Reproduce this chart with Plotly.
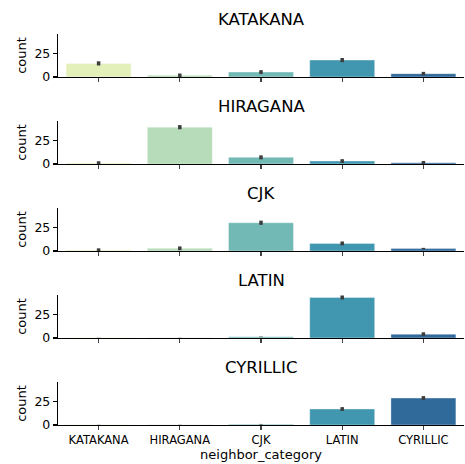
import plotly.graph_objects as go

categories = ["KATAKANA", "HIRAGANA", "CJK", "LATIN", "CYRILLIC"]
panel_titles = ["KATAKANA", "HIRAGANA", "CJK", "LATIN", "CYRILLIC"]

katakana_counts = [14.3, 1.8, 5.2, 17.8, 3.5]
hiragana_counts = [1.0, 38.7, 7.0, 3.1, 1.4]
cjk_counts = [1.0, 2.8, 29.7, 8.0, 2.5]
latin_counts = [0.3, 0.3, 1.2, 42.6, 4.0]
cyrillic_counts = [0.2, 0.3, 0.8, 16.8, 28.3]

katakana_err = [2.2, 1.9, 2.0, 2.2, 1.9]
hiragana_err = [1.9, 2.2, 2.1, 2.0, 1.8]
cjk_err = [1.8, 2.0, 2.2, 2.0, 0.8]
latin_err = [0.1, 0.1, 0.3, 2.1, 2.0]
cyrillic_err = [0.1, 0.1, 0.3, 2.0, 2.1]

y_ticks = [0, 25]
colors = ["#e3f0b9", "#b7dcb9", "#72b9b5", "#4197b0", "#306a9b"]

series = [katakana_counts, hiragana_counts, cjk_counts, latin_counts, cyrillic_counts]
errors = [katakana_err, hiragana_err, cjk_err, latin_err, cyrillic_err]

W, H = 465, 464
mt, mb = 34, 39
plot_h = H - mt - mb
fig = go.Figure()
annotations = []
layout = {}
for i, (vals, errs) in enumerate(zip(series, errors)):
    n = i + 1
    xa = "x" if n == 1 else f"x{n}"
    ya = "y" if n == 1 else f"y{n}"
    fig.add_trace(go.Bar(
        x=categories, y=vals, xaxis=xa, yaxis=ya,
        marker=dict(color=colors, line=dict(color="rgba(255,255,255,0.35)", width=1)),
        width=0.8,
        error_y=dict(type="data", array=errs, visible=True, thickness=3.5, width=0, color="#3d3d3d"),
        showlegend=False,
    ))
    top_px = 34 + 87 * i
    bot_px = 77 + 87 * i
    d0 = (H - mb - bot_px) / plot_h
    d1 = (H - mb - top_px) / plot_h
    xkey = "xaxis" if n == 1 else f"xaxis{n}"
    ykey = "yaxis" if n == 1 else f"yaxis{n}"
    layout[xkey] = dict(
        domain=[0, 1], anchor=ya, range=[-0.5, 4.5],
        showline=True, linecolor="#000", linewidth=1.2,
        ticks="outside", ticklen=4, tickwidth=1.2, tickcolor="#444",
        showticklabels=(n == 5), tickfont=dict(family="DejaVu Sans", size=11.5, color="#000"),
        showgrid=False, zeroline=False, fixedrange=True,
        categoryorder="array", categoryarray=categories,
        title=dict(text="neighbor_category", font=dict(family="DejaVu Sans", size=13, color="#000"), standoff=2) if n == 5 else None,
    )
    if n != 1:
        layout[xkey]["matches"] = "x"
    layout[ykey] = dict(
        domain=[d0, d1], anchor=xa, range=[0, 45.2],
        showline=True, linecolor="#000", linewidth=1.2,
        ticks="outside", ticklen=4, tickwidth=1.2, tickcolor="#000",
        tickvals=y_ticks, ticktext=[str(t) for t in y_ticks],
        tickfont=dict(family="DejaVu Sans", size=12.5, color="#000"),
        showgrid=False, zeroline=False, fixedrange=True,
        title=dict(text="count", font=dict(family="DejaVu Sans", size=13, color="#000"), standoff=4),
    )
    annotations.append(dict(
        text=panel_titles[i], xref="paper", yref="paper", x=0.5, y=d1,
        xanchor="center", yanchor="bottom", yshift=3, showarrow=False,
        font=dict(family="DejaVu Sans", size=16.5, color="#000"),
    ))

fig.update_layout(
    width=W, height=H,
    margin=dict(l=58, r=1, t=mt, b=mb),
    paper_bgcolor="white", plot_bgcolor="white",
    annotations=annotations,
    bargap=0.2,
    hovermode=False,
    **layout,
)
fig.write_html(
    "out.html",
    config={"displayModeBar": False, "staticPlot": True},
    post_script="document.body.style.margin='0px';document.body.style.overflow='hidden';",
)
